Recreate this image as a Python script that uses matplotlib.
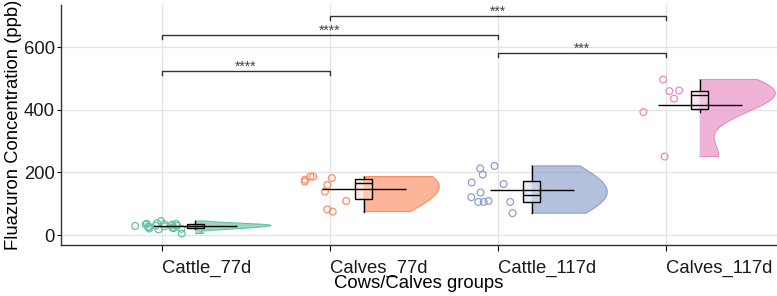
import numpy as np
import matplotlib
matplotlib.use("Agg")
import matplotlib.pyplot as plt
import matplotlib.colors as mcolors

plt.rcParams["font.family"] = ["Liberation Sans", "DejaVu Sans"]

groups = ["Cattle_77d", "Calves_77d", "Cattle_117d", "Calves_117d"]
colors = ["#66C2A5", "#FC8D62", "#8DA0CB", "#E78AC3"]

cattle_77d = [28, 30, 31, 34, 26, 36, 29, 22, 33, 38, 21, 27, 36, 30, 18, 45, 5, 24, 35, 20]
calves_77d = [187, 187, 182, 177, 171, 160, 139, 109, 75, 82]
cattle_117d = [221, 193, 168, 213, 163, 136, 109, 121, 106, 106, 106, 70]
calves_117d = [497, 462, 460, 436, 393, 251]
values = [cattle_77d, calves_77d, cattle_117d, calves_117d]

# significance brackets: (group a, group b, height, label)
comparisons = [
    (0, 1, 523, "****"),
    (0, 2, 639, "****"),
    (1, 3, 700, "***"),
    (2, 3, 581, "***"),
]

# kde bandwidth multipliers per group (smoothness of the half violins)
bw_adjust = [1.0, 2.6, 2.6, 1.8]


def nrd0(x):
    x = np.asarray(x, float)
    sd = x.std(ddof=1)
    iqr = np.subtract(*np.percentile(x, [75, 25])) / 1.34
    s = min(sd, iqr) if iqr > 0 else sd
    return 0.9 * s * len(x) ** -0.2


def kde(x, grid, adjust=1.0):
    x = np.asarray(x, float)
    bw = nrd0(x) * adjust
    d = np.exp(-0.5 * ((grid[:, None] - x[None, :]) / bw) ** 2).sum(axis=1)
    return d / d.max()


def lighten(c, amt):
    r, g, b = mcolors.to_rgb(c)
    return (1 - amt * (1 - r), 1 - amt * (1 - g), 1 - amt * (1 - b))


fig = plt.figure(figsize=(7.77, 2.96), dpi=100)
ax = fig.add_axes([0.0785, 0.172, 0.9215, 0.811])

rng = np.random.default_rng(7)
offset = 0.2
vwidth = 0.45
fs = 13.3

for i, (vals, col) in enumerate(zip(values, colors)):
    pos = i + 1
    v = np.asarray(vals, float)
    base = pos + offset

    # half violin
    grid = np.linspace(v.min(), v.max(), 200)
    dens = kde(v, grid, adjust=bw_adjust[i]) * vwidth
    ax.fill_betweenx(grid, base, base + dens, facecolor=col, alpha=0.65,
                     edgecolor="none", zorder=2)
    ax.plot(np.r_[base, base + dens, base], np.r_[grid[0], grid, grid[-1]],
            color=col, lw=0.8, zorder=2)

    # jittered raw points
    jx = pos - 0.02 + rng.uniform(-0.14, 0.14, len(v))
    ax.scatter(jx, v, s=24, facecolors="none", edgecolors=col, linewidths=0.9,
               zorder=3)

    # boxplot at violin base
    ax.boxplot([v], positions=[base], widths=0.1, patch_artist=True,
               showfliers=False, showcaps=False, manage_ticks=False,
               boxprops=dict(facecolor=lighten(col, 0.35) + (0.6,),
                             edgecolor="black", linewidth=1.0),
               medianprops=dict(color="black", linewidth=1.0),
               whiskerprops=dict(color="black", linewidth=1.0),
               zorder=4)

    # mean line
    ax.hlines(v.mean(), base - 0.25, base + 0.25, color="black", lw=1.0,
              zorder=5)

# significance brackets
tick = 12
for a, b, h, lab in comparisons:
    xa, xb = a + 1, b + 1
    ax.plot([xa, xa, xb, xb], [h - tick, h, h, h - tick], color="#333333",
            lw=1.0, zorder=6)
    ax.text((xa + xb) / 2, h + 2, lab, ha="center", va="baseline",
            fontsize=10, color="#444444")

ax.set_xlim(0.4, 4.66)
ax.set_ylim(-32, 735)
ax.set_xticks(range(1, 5))
ax.set_xticklabels(groups, ha="left", fontsize=fs, color="#1a1a1a")
ax.set_yticks([0, 200, 400, 600])
ax.tick_params(axis="y", labelsize=fs, labelcolor="#1a1a1a", length=3, pad=1.5)
ax.tick_params(axis="x", length=4, pad=6.5)
ax.grid(True, color="#E3E3E3", lw=0.9, zorder=0)
ax.set_axisbelow(True)
for s in ["top", "right"]:
    ax.spines[s].set_visible(False)
for s in ["left", "bottom"]:
    ax.spines[s].set_color("#333333")
    ax.spines[s].set_linewidth(1.0)

ax.set_xlabel("Cows/Calves groups", fontsize=fs, labelpad=-1)
ax.set_ylabel("Fluazuron Concentration (ppb)", fontsize=fs, labelpad=1)

fig.savefig("out.png", dpi=100)
